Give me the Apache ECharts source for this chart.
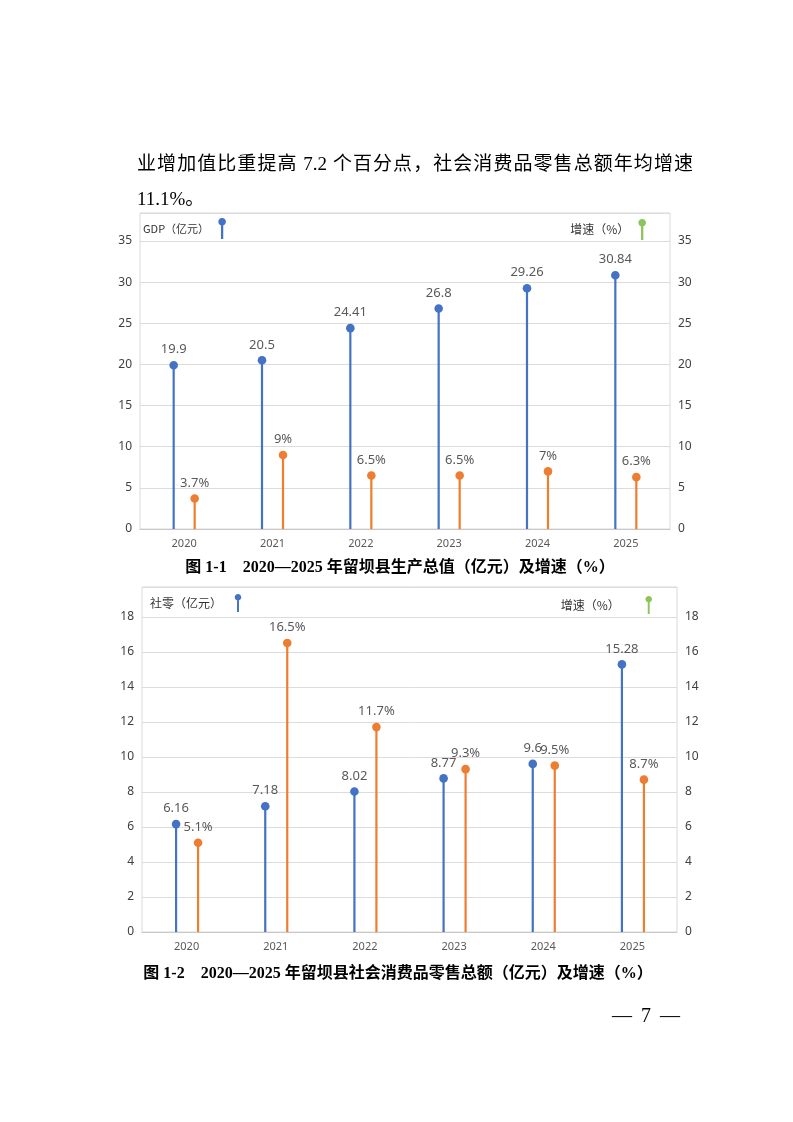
<!DOCTYPE html>
<html>
<head>
<meta charset="utf-8">
<title>留坝县 GDP 及社零</title>
<script src="https://cdn.jsdelivr.net/npm/echarts@6/dist/echarts.min.js"></script>
<style>
html, body { margin: 0; padding: 0; background: #fff; }
#page { position: relative; width: 793px; height: 1122px; overflow: hidden; background: #fff; }
#main { position: absolute; left: 0; top: 0; width: 793px; height: 1122px; }
.txt { position: absolute; font-family: "Liberation Serif", "Noto Sans CJK SC", serif; color: #000; line-height: 1; z-index: 2; }
.para { font-size: 19px; }
.cap { font-size: 16px; font-weight: bold; white-space: nowrap; text-align: center; }
</style>
</head>
<body>
<div id="page">
  <div id="main"></div>
  <div class="txt para" style="left:137px;top:154px;width:556px;text-align:justify;text-align-last:justify;">业增加值比重提高 7.2 个百分点，社会消费品零售总额年均增速</div>
  <div class="txt para" style="left:137px;top:189px;">11.1%。</div>
  <div class="txt cap" style="left:0;top:559px;width:800px;">图 1-1　2020—2025 年留坝县生产总值（亿元）及增速（%）</div>
  <div class="txt cap" style="left:0;top:965px;width:796px;">图 1-2　2020—2025 年留坝县社会消费品零售总额（亿元）及增速（%）</div>
  <div class="txt" style="left:612px;top:1005px;font-size:20px;word-spacing:4px;">— 7 —</div>
</div>
<script>
// 年份
var years = ['2020', '2021', '2022', '2023', '2024', '2025'];
// 图1-1 生产总值（亿元）及增速（%）
var gdpValues = [19.9, 20.5, 24.41, 26.8, 29.26, 30.84];
var gdpGrowth = [3.7, 9, 6.5, 6.5, 7, 6.3];
// 图1-2 社会消费品零售总额（亿元）及增速（%）
var retailValues = [6.16, 7.18, 8.02, 8.77, 9.6, 15.28];
var retailGrowth = [5.1, 16.5, 11.7, 9.3, 9.5, 8.7];
// 刻度
var gdpTicks = { min: 0, interval: 5 };
var retailTicks = { min: 0, interval: 2 };

var BLUE = '#4472C4', ORANGE = '#ED7D31', GREEN = '#8CC55A';
var LABEL_FONT = '13px "Noto Sans", "Noto Sans CJK SC", sans-serif';
// 图例图标：圆点在上，竖线向下
var PIN = 'path://M0,4 C0,1.8 1.8,0 4,0 C6.2,0 8,1.8 8,4 C8,6.2 6.2,8 4,8 C1.8,8 0,6.2 0,4 Z M2.8,6 L5.2,6 L5.2,22 L2.8,22 Z';

function toData(vals) {
    return years.map(function (y, i) { return [y, vals[i]]; });
}

// 棒棒糖：竖线 + 圆点 + 数值
function lollipop(offset, suffix) {
    return function (params, api) {
        var v = api.value(1);
        var top = api.coord([api.value(0), v]);
        var base = api.coord([api.value(0), 0]);
        var x = top[0] + offset;
        var color = api.visual('color');
        return {
            type: 'group',
            children: [
                { type: 'line', shape: { x1: x, y1: base[1], x2: x, y2: top[1] }, style: { stroke: color, lineWidth: 2.2 } },
                { type: 'circle', shape: { cx: x, cy: top[1], r: 4.3 }, style: { fill: color } },
                { type: 'text', style: { text: v + suffix, x: x, y: top[1] - 9, textAlign: 'center', textVerticalAlign: 'bottom', fill: '#595959', font: LABEL_FONT } }
            ]
        };
    };
}

function xAxisOf(gridIndex) {
    return {
        type: 'category', gridIndex: gridIndex, data: years,
        axisLine: { lineStyle: { color: '#c8c8c8' } },
        axisTick: { show: false },
        axisLabel: { color: '#595959', fontSize: 11, margin: 9, fontFamily: 'Noto Sans' }
    };
}

function yAxisOf(gridIndex, pos, ticks, max) {
    return {
        type: 'value', gridIndex: gridIndex, position: pos,
        min: ticks.min, max: max, interval: ticks.interval,
        axisLine: { show: false }, axisTick: { show: false },
        splitLine: { show: pos === 'left', lineStyle: { color: '#dcdcdc' } },
        axisLabel: { color: '#404040', fontSize: 12, margin: 8, showMaxLabel: false, fontFamily: 'Noto Sans' }
    };
}

function legendOf(name, color, pos, top, fontSize, itemHeight, padTop, padRight) {
    var lg = {
        data: [{ name: name, itemStyle: { color: color } }],
        top: top, align: 'right', orient: 'horizontal',
        icon: PIN, itemWidth: 8, itemHeight: itemHeight, padding: 0,
        selectedMode: false,
        textStyle: { fontSize: fontSize, color: '#333', fontFamily: 'Noto Sans CJK SC', padding: [padTop, padRight, 0, 0] }
    };
    for (var k in pos) lg[k] = pos[k];
    return lg;
}

var chart = echarts.init(document.getElementById('main'));
var option = {
    animation: false,
    grid: [
        { left: 140, top: 213, width: 530, height: 316, show: true, borderColor: '#d9d9d9', borderWidth: 1 },
        { left: 142, top: 587, width: 535, height: 345, show: true, borderColor: '#d9d9d9', borderWidth: 1 }
    ],
    legend: [
        legendOf('GDP（亿元）', BLUE, { left: 143 }, 218, 11, 21, 9, 4),
        legendOf('增速（%）', GREEN, { right: 147 }, 219, 12, 21, 9, 4),
        legendOf('社零（亿元）', BLUE, { left: 150 }, 594, 12, 18, 6, 7),
        legendOf('增速（%）', GREEN, { right: 141 }, 596, 12, 18, 6, 20)
    ],
    xAxis: [xAxisOf(0), xAxisOf(1)],
    yAxis: [
        yAxisOf(0, 'left', gdpTicks, 38.4),
        yAxisOf(0, 'right', gdpTicks, 38.4),
        yAxisOf(1, 'left', retailTicks, 19.7),
        yAxisOf(1, 'right', retailTicks, 19.7)
    ],
    series: [
        { name: 'GDP（亿元）', type: 'custom', xAxisIndex: 0, yAxisIndex: 0, itemStyle: { color: BLUE },
          renderItem: lollipop(-10.5, ''), data: toData(gdpValues) },
        { name: '增速（%）', type: 'custom', xAxisIndex: 0, yAxisIndex: 1, itemStyle: { color: ORANGE },
          renderItem: lollipop(10.5, '%'), data: toData(gdpGrowth) },
        { name: '社零（亿元）', type: 'custom', xAxisIndex: 1, yAxisIndex: 2, itemStyle: { color: BLUE },
          renderItem: lollipop(-10.5, ''), data: toData(retailValues) },
        { name: '增速（%）', type: 'custom', xAxisIndex: 1, yAxisIndex: 3, itemStyle: { color: ORANGE },
          renderItem: lollipop(11.5, '%'), data: toData(retailGrowth) }
    ]
};
chart.setOption(option);
</script>
</body>
</html>
